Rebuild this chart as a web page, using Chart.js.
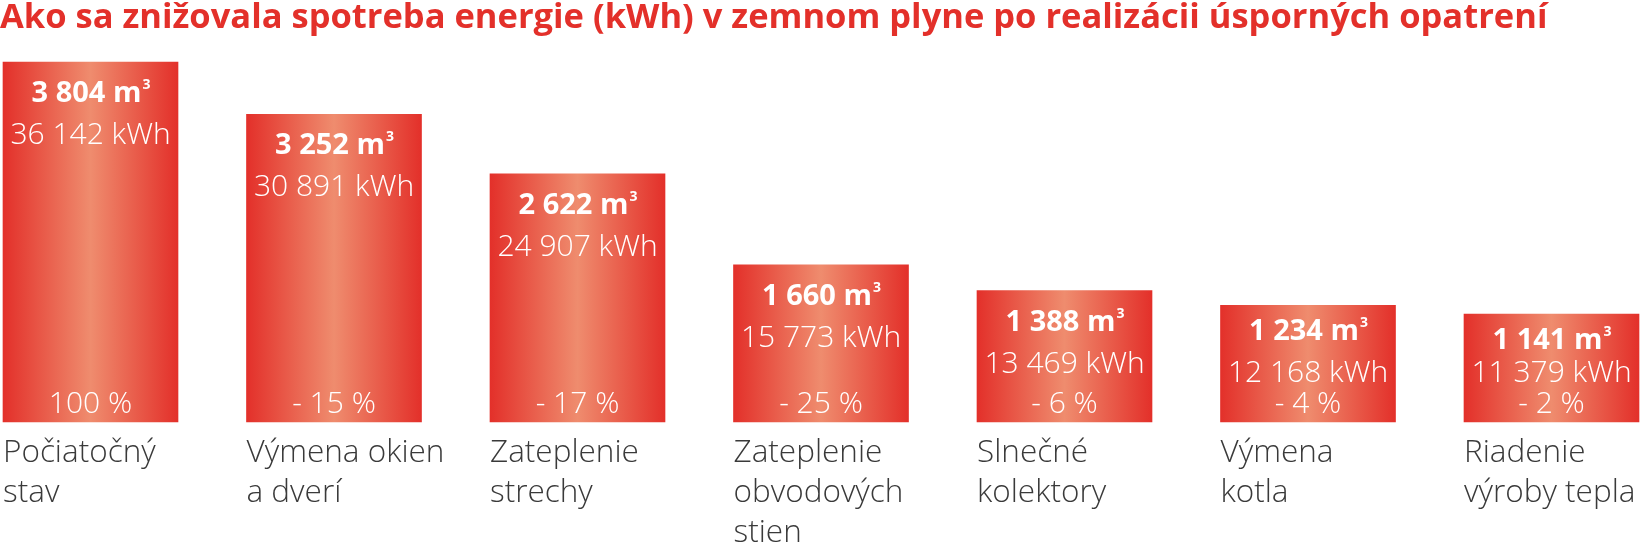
<!DOCTYPE html>
<html lang="sk">
<head>
<meta charset="utf-8">
<title>Spotreba energie v zemnom plyne</title>
<script src="https://cdn.jsdelivr.net/npm/chart.js@4/dist/chart.umd.min.js"></script>
<style>
  html, body { margin: 0; padding: 0; background: #fff; }
  #wrap { width: 1640px; height: 543px; position: relative; }
</style>
</head>
<body>
<div id="wrap"><canvas id="gasChart"></canvas></div>
<script>
// údaje z grafu
const titleText = 'Ako sa znižovala spotreba energie (kWh) v zemnom plyne po realizácii úsporných opatrení';
const categories = [
    ['Počiatočný', 'stav'],
    ['Výmena okien', 'a dverí'],
    ['Zateplenie', 'strechy'],
    ['Zateplenie', 'obvodových', 'stien'],
    ['Slnečné', 'kolektory'],
    ['Výmena', 'kotla'],
    ['Riadenie', 'výroby tepla']
];
const gasM3 = [3804, 3252, 2622, 1660, 1388, 1234, 1141];
const energyKWh = [36142, 30891, 24907, 15773, 13469, 12168, 11379];
const savingsPct = ['100 %', '- 15 %', '- 17 %', '- 25 %', '- 6 %', '- 4 %', '- 2 %'];

const RED = '#e3302a';
const SALMON = '#ef8c6e';
const BAR_W = 175;
const FONT = "'Open Sans', 'Noto Sans', sans-serif";

// medzera ako oddeľovač tisícov
function fmt(n) {
    return String(n).replace(/\B(?=(\d{3})+(?!\d))/g, ' ');
}

// gradient cez šírku stĺpca (okraje červené, stred svetlý)
function barGradient(c) {
    const chart = c.chart;
    if (!chart.chartArea || c.dataIndex === undefined) return RED;
    const x = chart.scales.x.getPixelForValue(c.dataIndex);
    const g = chart.ctx.createLinearGradient(x - BAR_W / 2, 0, x + BAR_W / 2, 0);
    g.addColorStop(0, RED);
    g.addColorStop(0.5, SALMON);
    g.addColorStop(1, RED);
    return g;
}

// texty vo vnútri stĺpcov a popisy pod nimi
const barLabels = {
    id: 'barLabels',
    afterDatasetsDraw(chart) {
        const ctx = chart.ctx;
        const meta = chart.getDatasetMeta(0);
        ctx.save();
        meta.data.forEach((bar, i) => {
            const cx = bar.x, top = bar.y, bottom = bar.base;
            const left = cx - bar.width / 2;

            const pctY = bottom - 9;
            const kwhY = Math.min(top + 82, pctY - 31);
            const boldY = Math.max(top + 35, Math.min(top + 40, kwhY - 42));

            ctx.fillStyle = '#ffffff';
            ctx.textBaseline = 'alphabetic';

            // m³ riadok
            const main = fmt(gasM3[i]) + ' m';
            ctx.font = `700 29px ${FONT}`;
            const wMain = ctx.measureText(main).width;
            ctx.font = `700 14px ${FONT}`;
            const wSup = ctx.measureText('3').width;
            const start = cx - (wMain + wSup) / 2;
            ctx.textAlign = 'left';
            ctx.font = `700 29px ${FONT}`;
            ctx.fillText(main, start, boldY);
            ctx.font = `700 14px ${FONT}`;
            ctx.fillText('3', start + wMain + 1, boldY - 13);

            // kWh a percentá
            ctx.textAlign = 'center';
            ctx.font = `300 30px ${FONT}`;
            ctx.fillText(fmt(energyKWh[i]) + ' kWh', cx, kwhY);
            ctx.fillText(savingsPct[i], cx, pctY);

            // kategória pod stĺpcom
            ctx.textAlign = 'left';
            ctx.fillStyle = '#3a3a3a';
            ctx.font = `300 31.5px ${FONT}`;
            categories[i].forEach((line, k) => {
                ctx.fillText(line, left, bottom + 40 + k * 40);
            });
        });
        ctx.restore();
    }
};

new Chart(document.getElementById('gasChart'), {
    type: 'bar',
    data: {
        labels: categories,
        datasets: [{
            label: 'm³',
            data: gasM3,
            backgroundColor: barGradient,
            borderWidth: 0,
            barThickness: BAR_W,
            clip: false
        }]
    },
    options: {
        responsive: true,
        maintainAspectRatio: false,
        animation: false,
        layout: { padding: { left: 0, right: 88.5, top: 0, bottom: 121 } },
        plugins: {
            legend: { display: false },
            tooltip: { enabled: false },
            title: {
                display: true,
                text: titleText,
                align: 'start',
                color: RED,
                font: { family: FONT, size: 34.5, weight: '700', lineHeight: 1.05 },
                padding: { top: 0, bottom: 25.8 }
            }
        },
        scales: {
            x: {
                display: false,
                offset: false
            },
            y: {
                min: 0,
                max: 3804,
                grid: { display: false },
                border: { display: false },
                ticks: { display: false },
                afterFit: (s) => { s.width = 90.5; }
            }
        }
    },
    plugins: [barLabels]
});
</script>
</body>
</html>
